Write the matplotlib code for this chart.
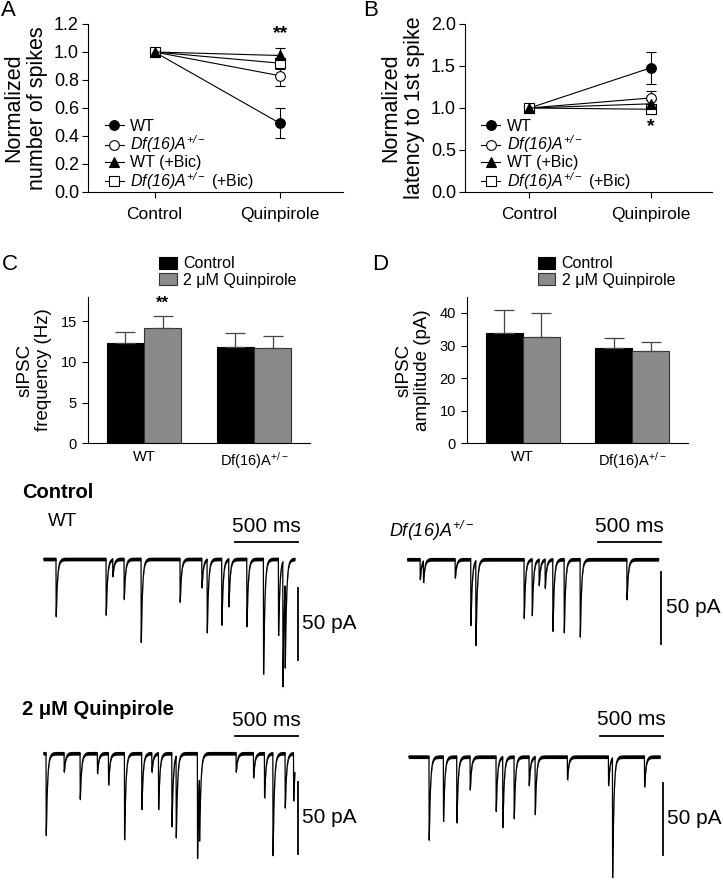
import matplotlib
matplotlib.use('Agg')
import matplotlib.pyplot as plt
import numpy as np
from matplotlib.lines import Line2D
from matplotlib.patches import Patch

plt.rcParams['font.family'] = ['Liberation Sans', 'DejaVu Sans']
plt.rcParams['mathtext.fontset'] = 'custom'
# math "rm" is italic so that digits in the genotype name come out slanted;
# \mathsf is used where upright math is wanted
plt.rcParams['mathtext.rm'] = 'Liberation Sans:italic'
plt.rcParams['mathtext.it'] = 'Liberation Sans:italic'
plt.rcParams['mathtext.sf'] = 'Liberation Sans'
plt.rcParams['mathtext.bf'] = 'Liberation Sans:bold'
plt.rcParams['axes.linewidth'] = 0.8

# ---- data: panels A / B (normalized, control vs quinpirole)
conditions = ['Control', 'Quinpirole']
spk_wt = [1.0, 0.49]
spk_wt_err = [0.0, 0.107]
spk_df = [1.0, 0.83]
spk_df_err = [0.0, 0.075]
spk_wtbic = [1.0, 0.975]
spk_wtbic_err = [0.0, 0.055]
spk_dfbic = [1.0, 0.92]
spk_dfbic_err = [0.0, 0.04]

lat_wt = [1.0, 1.48]
lat_wt_err = [0.0, 0.19]
lat_df = [1.0, 1.12]
lat_df_err = [0.0, 0.08]
lat_wtbic = [1.0, 1.05]
lat_wtbic_err = [0.0, 0.04]
lat_dfbic = [1.0, 0.985]
lat_dfbic_err = [0.0, 0.06]

# ---- data: panels C / D (sIPSC)
genotypes = ['WT', r'Df(16)A$^{\mathsf{+/-}}$']
freq_ctrl = [12.27, 11.85]
freq_ctrl_err = [1.35, 1.65]
freq_quin = [14.15, 11.7]
freq_quin_err = [1.45, 1.47]
amp_ctrl = [33.9, 29.2]
amp_ctrl_err = [7.1, 3.0]
amp_quin = [32.7, 28.3]
amp_quin_err = [7.2, 2.9]

# ---- data: example traces (event time ms, amplitude pA)
wt_ctrl_t = [103, 500, 553, 643, 778, 1087, 1260, 1302, 1418, 1474, 1617, 1749, 1868, 1903, 1921]
wt_ctrl_a = [40, 39, 12, 28, 58, 30, 20, 51, 46, 33, 47, 80, 53, 87, 60]
df_ctrl_t = [106, 132, 384, 508, 548, 931, 995, 1050, 1098, 1159, 1249, 1376, 1747]
df_ctrl_a = [14, 15, 13, 46, 59, 41, 39, 18, 20, 50, 51, 54, 28]
wt_quin_t = [24, 167, 294, 431, 519, 646, 783, 863, 916, 1022, 1056, 1225, 1241,
             1532, 1670, 1757, 1824, 1921, 1988]
wt_quin_a = [57, 13, 32, 14, 22, 60, 39, 13, 39, 51, 57, 73, 45, 13, 17, 31, 71, 38, 33]
df_quin_t = [164, 278, 384, 490, 696, 749, 839, 958, 1006, 1262, 1588, 1620, 1874]
df_quin_a = [58, 45, 46, 23, 38, 49, 43, 20, 40, 16, 20, 83, 21]

W, H = 723, 880
fig = plt.figure(figsize=(W / 100, H / 100), dpi=100)

DF = r'$Df(16)A^{+/-}$'


def px_axes(x0, y0, x1, y1):
    return fig.add_axes([x0 / W, 1 - y1 / H, (x1 - x0) / W, (y1 - y0) / H])


def ftext(x, y, s, **kw):
    fig.text(x / W, 1 - y / H, s, va='center', **kw)


def norm_panel(ax, series, ylim, yticks, ylabel, star, star_y):
    xs = np.arange(len(conditions))
    # WT, Df, WT+Bic, Df+Bic
    styles = [dict(marker='o', mfc='black', ms=7),
              dict(marker='o', mfc='white', ms=7),
              dict(marker='^', mfc='black', ms=7.5),
              dict(marker='s', mfc='white', ms=6.5)]
    handles = []
    for i in [0, 1, 3, 2]:
        vals, err = series[i]
        ax.errorbar(xs, vals, yerr=err, color='black', lw=0.8, capsize=3.5,
                    capthick=0.8, mec='black', mew=0.8, **styles[i])
    for i in range(4):
        handles.append(Line2D([], [], color='black', lw=0.8, mec='black', mew=0.8,
                              **styles[i]))
    labels = ['WT', DF, 'WT (+Bic)', DF + ' (+Bic)']
    ax.legend(handles, labels, loc='lower left', bbox_to_anchor=(0.065, 0.0),
              frameon=False, fontsize=11.5, handlelength=1.2, handletextpad=0.4,
              labelspacing=0.0, borderaxespad=0, borderpad=0)
    ax.set_xlim(-0.53, 1.5)
    ax.set_ylim(*ylim)
    ax.set_yticks(yticks)
    ax.set_yticklabels(['%.1f' % v for v in yticks])
    ax.set_xticks(xs)
    ax.set_xticklabels(conditions)
    ax.spines['top'].set_visible(False)
    ax.spines['right'].set_visible(False)
    ax.tick_params(axis='y', direction='out', length=4, width=0.8, pad=2.5, labelsize=13)
    ax.tick_params(axis='x', direction='out', length=4, width=0.8, pad=7, labelsize=12.5)
    ax.set_ylabel(ylabel, fontsize=15.5, linespacing=1.2, labelpad=4)
    ax.text(1, star_y, star, ha='center', va='center', fontsize=14, fontweight='bold')


axA = px_axes(88, 24, 343, 192)
norm_panel(axA, [(spk_wt, spk_wt_err), (spk_df, spk_df_err),
                 (spk_wtbic, spk_wtbic_err), (spk_dfbic, spk_dfbic_err)],
           (0, 1.2), [0, 0.2, 0.4, 0.6, 0.8, 1.0, 1.2],
           'Normalized\nnumber of spikes', '**', 1.13)
axB = px_axes(465, 24, 712, 192)
norm_panel(axB, [(lat_wt, lat_wt_err), (lat_df, lat_df_err),
                 (lat_wtbic, lat_wtbic_err), (lat_dfbic, lat_dfbic_err)],
           (0, 2.0), [0, 0.5, 1.0, 1.5, 2.0],
           'Normalized\nlatency to 1st spike', '*', 0.78)


def bar_panel(ax, ctrl, ctrl_err, quin, quin_err, ylim, yticks, ylabel):
    xs = np.arange(len(genotypes))
    w = 0.34
    ax.bar(xs - w / 2, ctrl, w, color='black', edgecolor='black', lw=0.8)
    ax.bar(xs + w / 2, quin, w, color='#8a8a8a', edgecolor='#333333', lw=0.8)
    ax.errorbar(xs - w / 2, ctrl, yerr=[np.zeros(len(xs)), ctrl_err], fmt='none',
                ecolor='#444444', elinewidth=0.9, capsize=7, capthick=0.9)
    ax.errorbar(xs + w / 2, quin, yerr=[np.zeros(len(xs)), quin_err], fmt='none',
                ecolor='#444444', elinewidth=0.9, capsize=7, capthick=0.9)
    ax.set_xlim(-0.51, 1.51)
    ax.set_ylim(*ylim)
    ax.set_yticks(yticks)
    ax.set_xticks(xs)
    ax.set_xticklabels(genotypes)
    ax.spines['top'].set_visible(False)
    ax.spines['right'].set_visible(False)
    ax.tick_params(axis='y', direction='out', length=4, width=0.8, pad=4, labelsize=10.5)
    ax.tick_params(axis='x', length=0, pad=5, labelsize=10.5)
    ax.set_ylabel(ylabel, fontsize=13.5, linespacing=1.1, labelpad=6)
    hs = [Patch(facecolor='black', edgecolor='black', lw=0.8),
          Patch(facecolor='#8a8a8a', edgecolor='#333333', lw=0.8)]
    ax.legend(hs, ['Control', '2 \u03bcM Quinpirole'], loc='lower left',
              bbox_to_anchor=(0.32, 1.06), frameon=False, fontsize=11.5,
              handlelength=1.1, handleheight=0.75, handletextpad=0.4,
              labelspacing=0.1, borderaxespad=0, borderpad=0)


axC = px_axes(88, 296.7, 310, 443.3)
bar_panel(axC, freq_ctrl, freq_ctrl_err, freq_quin, freq_quin_err,
          (0, 18), [0, 5, 10, 15], 'sIPSC\nfrequency (Hz)')
axC.text(0.17, 17.2, '**', ha='center', va='center', fontsize=12, fontweight='bold')
axD = px_axes(467, 296.7, 688, 443.3)
bar_panel(axD, amp_ctrl, amp_ctrl_err, amp_quin, amp_quin_err,
          (0, 45), [0, 10, 20, 30, 40], 'sIPSC\namplitude (pA)')

# panel letters
ftext(1, 10, 'A', fontsize=16)
ftext(363, 10, 'B', fontsize=16)
ftext(2, 264, 'C', fontsize=16)
ftext(372, 264, 'D', fontsize=16)

# ---- traces
PX_MS = 63 / 500.0
PX_PA = 72 / 50.0
t = np.arange(0, 2000, 0.5)
kern = np.exp(-t / 10.0) - np.exp(-t / 0.6)
kern = kern / kern.max()


def build_trace(times, amps):
    y = np.zeros_like(t)
    for t0, a in zip(times, amps):
        i0 = int(round(t0 / 0.5))
        y[i0:] -= a * kern[:len(t) - i0]
    return y


def trace_panel(x0, base, times, amps, hbar_y, htxt_y, vbar_top, vbar_bot):
    ax = px_axes(x0, base - 50, x0 + 320, base + 140)
    ax.set_xlim(0, 320 / PX_MS)
    ax.set_ylim(-140 / PX_PA, 50 / PX_PA)
    ax.axis('off')
    y = build_trace(times, amps)
    ax.fill_between(t, y - 1.3, y + 1.3, color='black', lw=0)
    ax.plot(t, y, color='black', lw=0.9)
    ax.plot([1520, 2020], [hbar_y, hbar_y], color='black', lw=1.3, clip_on=False)
    ax.text(1770, htxt_y, '500 ms', ha='center', va='center', fontsize=15)
    ax.plot([2020, 2020], [vbar_top, vbar_bot], color='black', lw=1.3, clip_on=False)
    ax.text(2055, (vbar_top + vbar_bot) / 2, '50 pA', ha='left', va='center', fontsize=15)


trace_panel(43, 559, wt_ctrl_t, wt_ctrl_a, 12.0, 22.5, -20.1, -70.1)
trace_panel(406.7, 559.3, df_ctrl_t, df_ctrl_a, 12.2, 22.5, -8.6, -58.6)
trace_panel(43, 753.3, wt_quin_t, wt_quin_a, 12.0, 23.0, -19.7, -69.7)
trace_panel(408.3, 756.7, df_quin_t, df_quin_a, 14.4, 25.5, -18.1, -68.1)

ftext(22, 493, 'Control', fontsize=14.5, fontweight='bold')
ftext(48, 522, 'WT', fontsize=13.5)
ftext(389, 531, DF, fontsize=13)
ftext(22, 709, '2 \u03bcM Quinpirole', fontsize=14.5, fontweight='bold')

fig.savefig('out.png', dpi=100)
